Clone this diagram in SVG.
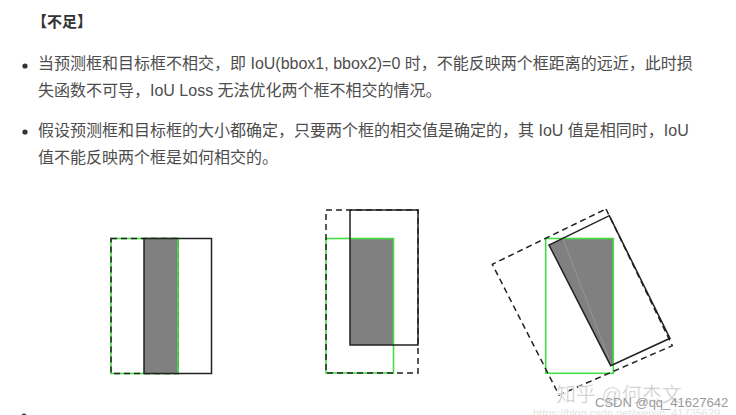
<svg xmlns="http://www.w3.org/2000/svg" width="736" height="415" viewBox="0 0 736 415">
<style>
.t{font-family:"Liberation Sans","Noto Sans CJK SC",sans-serif;font-size:16px;fill:#4d4d4d}
.h{font-family:"Liberation Sans","Noto Sans CJK SC",sans-serif;font-size:15px;font-weight:bold;fill:#333}
.g{fill:#808080;stroke:none}
.gr{fill:none;stroke:#44dd44;stroke-width:1.6}
.bk{fill:none;stroke:#222;stroke-width:1.5}
.ds{fill:none;stroke:#222;stroke-width:1.5;stroke-dasharray:6 4}
.wm{font-family:"Liberation Sans","Noto Sans CJK SC",sans-serif}
</style>
<rect width="736" height="415" fill="#fff"/>
<g id="text">
<text class="h" x="32" y="27">【不足】</text>
<circle cx="25" cy="66" r="2.6" fill="#333"/>
<text class="t" x="38" y="69">当预测框和目标框不相交，即 IoU(bbox1, bbox2)=0 时，不能反映两个框距离的远近，此时损</text>
<text class="t" x="38" y="96">失函数不可导，IoU Loss 无法优化两个框不相交的情况。</text>
<circle cx="25" cy="132" r="2.6" fill="#333"/>
<text class="t" x="38" y="136">假设预测框和目标框的大小都确定，只要两个框的相交值是确定的，其 IoU 值是相同时，IoU</text>
<text class="t" x="38" y="163">值不能反映两个框是如何相交的。</text>
<circle cx="24" cy="416" r="2.6" fill="#333"/>
</g>
<g id="fig1">
<rect class="gr" x="111" y="238.5" width="67" height="135"/>
<rect class="ds" x="111" y="238.5" width="67" height="135"/>
<rect class="g" x="144" y="238.5" width="34" height="135"/>
<line x1="178" y1="238.5" x2="178" y2="373.5" stroke="#44dd44" stroke-width="1.6"/>
<rect class="bk" x="144" y="238.5" width="67.5" height="135"/>
</g>
<g id="fig2">
<rect class="g" x="350" y="238.5" width="43.5" height="106.5"/>
<rect class="gr" x="326" y="238.5" width="67.5" height="134.5"/>
<rect class="ds" x="326" y="210" width="92" height="163"/>
<rect class="bk" x="350" y="210" width="68" height="135"/>
</g>
<g id="fig3">
<polygon class="g" points="549,245 563,238.5 613.3,238.5 613.3,364.5 610.7,365.7"/>
<line x1="563" y1="239" x2="611" y2="364" stroke="#9a9a9a" stroke-width="0.8"/>
<rect class="gr" x="545.7" y="238.5" width="67.6" height="134.8"/>
<polygon class="bk" points="609.3,215.7 670,338.3 610.7,365.7 549,245"/>
<polygon class="ds" points="606,209 672.3,345.7 559,395 492.3,264.3"/>
</g>
<g id="watermark">
<text class="wm" x="556" y="402" font-size="20" fill="#c4c4c4" stroke="#fff" stroke-width="0.5">知乎 @何杰文</text>
<text class="wm" x="595" y="407" font-size="13" fill="#9a9a9a">CSDN @qq_41627642</text>
<text class="wm" x="533" y="417" font-size="11" fill="#e4e4e4">https://blog.csdn.net/weixin_41735629</text>
</g>
</svg>
